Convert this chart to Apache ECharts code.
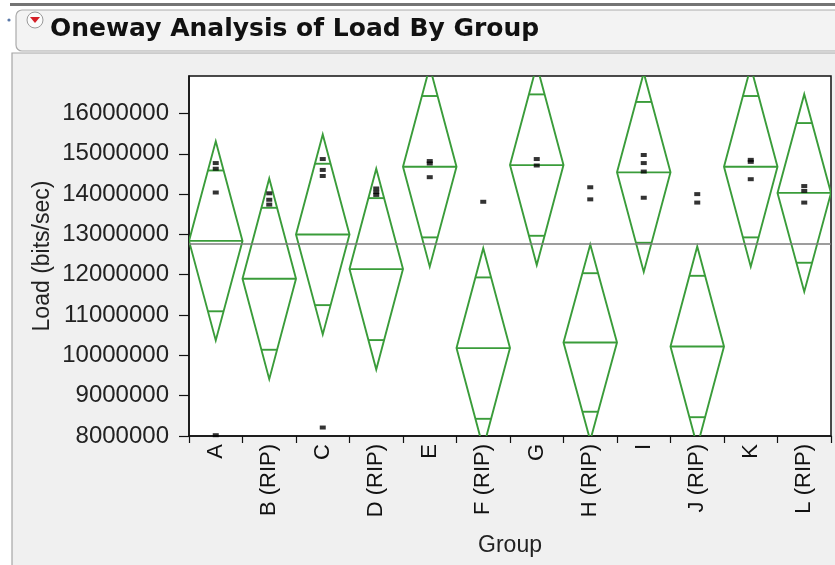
<!DOCTYPE html>
<html>
<head>
<meta charset="utf-8">
<title>Oneway Analysis of Load By Group</title>
<script src="https://cdn.jsdelivr.net/npm/echarts@6/dist/echarts.min.js"></script>
<style>
  html, body { margin: 0; padding: 0; background: #ffffff; }
  #chart { width: 835px; height: 565px; }
</style>
</head>
<body>
<div id="chart"></div>
<script>
// Groups along the x axis
const groups = ['A', 'B (RIP)', 'C', 'D (RIP)', 'E', 'F (RIP)', 'G', 'H (RIP)', 'I', 'J (RIP)', 'K', 'L (RIP)'];

// Group means and 95% confidence half-widths (bits/sec)
const groupMeans = [12840000, 11900000, 13000000, 12140000, 14680000, 10180000, 14720000, 10320000, 14540000, 10220000, 14680000, 14030000];
const ciHalfWidths = [2470000, 2490000, 2480000, 2490000, 2480000, 2480000, 2480000, 2430000, 2470000, 2480000, 2480000, 2450000];

// Overall mean of Load
const grandMean = 12760000;

// Individual observations per group (visible range)
const observations = [
  [14770000, 14630000, 14040000, 8020000],
  [14020000, 13860000, 13740000],
  [14870000, 14600000, 14450000, 8210000],
  [14140000, 14050000, 13980000],
  [14820000, 14760000, 14420000],
  [13810000],
  [14870000, 14710000],
  [14170000, 13870000],
  [14970000, 14770000, 14560000, 13910000],
  [14000000, 13790000],
  [14850000, 14800000, 14370000],
  [14200000, 14080000, 13790000]
];

// Y axis ticks
const yTicks = [8000000, 9000000, 10000000, 11000000, 12000000, 13000000, 14000000, 15000000, 16000000];
const yMin = 8000000;
const yMax = 16930000;

const diamondData = groups.map((g, i) => [i, groupMeans[i], ciHalfWidths[i]]);
const pointData = [];
observations.forEach((vals, i) => vals.forEach(v => pointData.push([i, v])));

const GREEN = '#3a9c3a';
const AXIS_FONT = 'Liberation Sans, Arial, sans-serif';

function renderDiamond(params, api) {
  const i = api.value(0);
  const m = api.value(1);
  const h = api.value(2);
  const c = api.coord([i, m]);
  const w = api.size([1, 0])[0] / 2;
  const yTop = api.coord([i, m + h])[1];
  const yBot = api.coord([i, m - h])[1];
  const k = h / Math.SQRT2;
  const yUp = api.coord([i, m + k])[1];
  const yLo = api.coord([i, m - k])[1];
  const ow = w * (1 - 1 / Math.SQRT2);
  const style = { stroke: GREEN, lineWidth: 1.9, fill: null };
  return {
    type: 'group',
    children: [
      { type: 'polygon', shape: { points: [[c[0], yTop], [c[0] + w, c[1]], [c[0], yBot], [c[0] - w, c[1]]] }, style: style },
      { type: 'line', shape: { x1: c[0] - w, y1: c[1], x2: c[0] + w, y2: c[1] }, style: style },
      { type: 'line', shape: { x1: c[0] - ow, y1: yUp, x2: c[0] + ow, y2: yUp }, style: style },
      { type: 'line', shape: { x1: c[0] - ow, y1: yLo, x2: c[0] + ow, y2: yLo }, style: style }
    ]
  };
}

const chart = echarts.init(document.getElementById('chart'), null, { renderer: 'canvas' });

chart.setOption({
  backgroundColor: '#ffffff',
  animation: false,
  graphic: [
    // outer report panel
    { type: 'rect', z: -10, shape: { x: 12, y: 53, width: 840, height: 530 }, style: { fill: '#f0f0f0', stroke: '#a6a6a6', lineWidth: 1.2 } },
    // top divider
    { type: 'rect', z: -10, shape: { x: 10, y: 3, width: 830, height: 3 }, style: { fill: '#747474' } },
    // title bar
    { type: 'rect', z: -9, shape: { x: 16, y: 10, width: 840, height: 41, r: 6 }, style: { fill: '#f3f3f3', stroke: '#ababab', lineWidth: 1.2 } },
    { type: 'circle', z: -9, shape: { cx: 9, cy: 20, r: 1.6 }, style: { fill: '#5a78a8' } },
    // disclosure icon
    { type: 'circle', shape: { cx: 35, cy: 20, r: 8 }, style: { fill: '#fbfbfb', stroke: '#9a9a9a', lineWidth: 1 } },
    { type: 'polygon', shape: { points: [[30, 17], [40, 17], [35, 23]] }, style: { fill: '#d42028' } },
    { type: 'text', left: 50, top: 17, style: { text: 'Oneway Analysis of Load By Group', font: 'bold 25px "DejaVu Sans", sans-serif', fill: '#111111' } }
  ],
  grid: {
    left: 189, top: 76, right: 4, bottom: 129,
    show: true, backgroundColor: '#ffffff', borderColor: '#111111', borderWidth: 1.5
  },
  xAxis: {
    type: 'category',
    data: groups,
    boundaryGap: true,
    name: 'Group',
    nameLocation: 'middle',
    nameGap: 98,
    nameMoveOverlap: false,
    nameTextStyle: { fontFamily: AXIS_FONT, fontSize: 23, color: '#222222' },
    axisLine: { show: true, lineStyle: { color: '#111111', width: 1.5 } },
    axisTick: { show: true, interval: 0, length: 7, lineStyle: { color: '#111111', width: 1.2 } },
    axisLabel: { interval: 0, rotate: 90, margin: 8, fontFamily: AXIS_FONT, fontSize: 22, color: '#111111' },
    splitLine: { show: false }
  },
  yAxis: {
    type: 'value',
    min: yMin,
    max: yMax,
    interval: 1000000,
    name: 'Load (bits/sec)',
    nameLocation: 'middle',
    nameGap: 135,
    nameMoveOverlap: false,
    nameTextStyle: { fontFamily: AXIS_FONT, fontSize: 23, color: '#222222' },
    axisLine: { show: true, lineStyle: { color: '#111111', width: 1.5 } },
    axisTick: { show: true, length: 10, customValues: yTicks, lineStyle: { color: '#111111', width: 1.2 } },
    axisLabel: {
      margin: 20, customValues: yTicks, fontFamily: AXIS_FONT, fontSize: 24, color: '#222222',
      formatter: v => String(Math.round(v))
    },
    splitLine: { show: false }
  },
  series: [
    {
      type: 'custom',
      name: 'Means diamonds',
      clip: true,
      renderItem: renderDiamond,
      data: diamondData,
      silent: true,
      z: 3
    },
    {
      type: 'scatter',
      name: 'Load',
      data: pointData,
      symbol: 'rect',
      symbolSize: [6, 4],
      itemStyle: { color: '#000000' },
      silent: true,
      z: 4,
      markLine: {
        silent: true,
        symbol: 'none',
        label: { show: false },
        lineStyle: { color: '#7d7d7d', width: 1.5, type: 'solid' },
        data: [{ yAxis: grandMean }]
      }
    }
  ]
});
</script>
</body>
</html>
